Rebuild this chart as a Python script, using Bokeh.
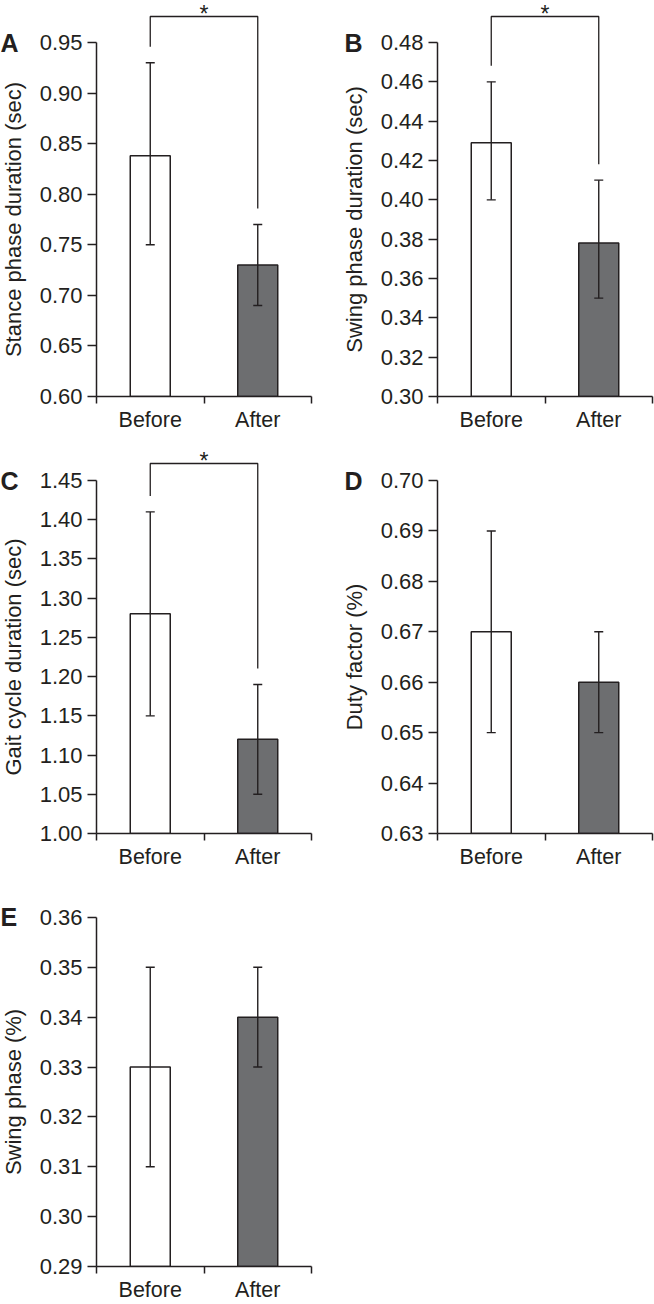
import math
from bokeh.plotting import figure
from bokeh.models import (Range1d, FixedTicker, PrintfTickFormatter, Label,
                          Whisker, TeeHead, ColumnDataSource)
from bokeh.layouts import column, row
from bokeh.embed import file_html
from bokeh.resources import INLINE

# ---------------- data ----------------
groups = ["Before", "After"]
bar_colors = ["#ffffff", "#6d6e70"]

stance_mean = [0.838, 0.730]
stance_lower = [0.750, 0.690]
stance_upper = [0.930, 0.770]
stance_ticks = [0.60, 0.65, 0.70, 0.75, 0.80, 0.85, 0.90, 0.95]

swingdur_mean = [0.429, 0.378]
swingdur_lower = [0.400, 0.350]
swingdur_upper = [0.460, 0.410]
swingdur_ticks = [0.30, 0.32, 0.34, 0.36, 0.38, 0.40, 0.42, 0.44, 0.46, 0.48]

gait_mean = [1.28, 1.12]
gait_lower = [1.15, 1.05]
gait_upper = [1.41, 1.19]
gait_ticks = [1.00, 1.05, 1.10, 1.15, 1.20, 1.25, 1.30, 1.35, 1.40, 1.45]

duty_mean = [0.670, 0.660]
duty_lower = [0.650, 0.650]
duty_upper = [0.690, 0.670]
duty_ticks = [0.63, 0.64, 0.65, 0.66, 0.67, 0.68, 0.69, 0.70]

swingpct_mean = [0.330, 0.340]
swingpct_lower = [0.310, 0.330]
swingpct_upper = [0.350, 0.350]
swingpct_ticks = [0.29, 0.30, 0.31, 0.32, 0.33, 0.34, 0.35, 0.36]

INK = "#231f20"
FONT = "Liberation Sans"
LABEL_W = 30   # width of the strip holding panel letter + rotated y title


def panel(letter, ylabel, mean, lower, upper, ticks, sig,
          frame_w, frame_h, tick_px, right, bottom, bracket_px, letter_x):
    lo, hi = ticks[0], ticks[-1]
    per_px = (hi - lo) / tick_px
    y_end = lo + frame_h * per_px
    left = 66

    # ---- strip with panel letter and rotated axis title ----
    s = figure(width=LABEL_W, height=frame_h + bottom,
               x_range=Range1d(0, LABEL_W), y_range=Range1d(lo, y_end),
               output_backend="svg", toolbar_location=None,
               x_axis_location=None, y_axis_location=None,
               min_border_left=0, min_border_right=0, min_border_top=0,
               min_border_bottom=bottom)
    s.outline_line_color = None
    s.xgrid.visible = False
    s.ygrid.visible = False
    s.add_layout(Label(x=12.5, y=(lo + hi) / 2, text=ylabel, angle=math.pi / 2,
                       text_align="center", text_baseline="middle",
                       text_font=FONT, text_font_size="22px", text_color=INK))
    s.add_layout(Label(x=letter_x, y=hi, text=letter, text_align="left",
                       text_baseline="middle", text_font=FONT,
                       text_font_style="bold", text_font_size="25px",
                       text_color=INK))

    # ---- bar chart ----
    p = figure(width=left + frame_w + right, height=frame_h + bottom,
               x_range=Range1d(0, 2), y_range=Range1d(lo, y_end),
               output_backend="svg", toolbar_location=None,
               min_border_left=left, min_border_right=right,
               min_border_top=0, min_border_bottom=bottom)
    p.outline_line_color = None
    p.xgrid.visible = False
    p.ygrid.visible = False

    xs = [i + 0.5 for i in range(len(groups))]
    src = ColumnDataSource(dict(x=xs, top=mean, lower=lower, upper=upper,
                                color=bar_colors))
    p.vbar(x="x", top="top", bottom=lo, width=0.372, fill_color="color",
           line_color=INK, line_width=1.5, source=src)
    p.add_layout(Whisker(base="x", upper="upper", lower="lower", source=src,
                         line_color=INK, line_width=1.4, level="overlay",
                         upper_head=TeeHead(size=9, line_color=INK, line_width=1.4),
                         lower_head=TeeHead(size=9, line_color=INK, line_width=1.4)))

    if sig:
        top_y = hi + bracket_px * per_px
        leg_l = upper[0] + 16 * per_px
        leg_r = upper[1] + 16 * per_px
        p.line(x=[xs[0], xs[0], xs[1], xs[1]], y=[leg_l, top_y, top_y, leg_r],
               line_color=INK, line_width=1.3)
        p.add_layout(Label(x=(xs[0] + xs[1]) / 2, y=top_y + 3 * per_px, text="*",
                           text_align="center", text_baseline="middle",
                           text_font=FONT, text_font_size="23px", text_color=INK))

    xa = p.xaxis[0]
    xa.ticker = FixedTicker(ticks=xs, minor_ticks=[0, 1, 2])
    xa.major_label_overrides = {xs[i]: groups[i] for i in range(len(groups))}
    xa.major_tick_out = 0
    xa.major_tick_in = 0
    xa.minor_tick_out = 7
    xa.minor_tick_in = 0
    xa.major_label_standoff = 4
    xa.axis_line_color = INK
    xa.axis_line_width = 1.5
    xa.minor_tick_line_color = INK
    xa.minor_tick_line_width = 1.5
    xa.major_label_text_font = FONT
    xa.major_label_text_font_size = "21.5px"
    xa.major_label_text_color = INK

    ya = p.yaxis[0]
    ya.ticker = FixedTicker(ticks=ticks, minor_ticks=[])
    ya.bounds = (lo, hi)
    ya.formatter = PrintfTickFormatter(format="%.2f")
    ya.major_tick_out = 9
    ya.major_tick_in = 0
    ya.minor_tick_line_color = None
    ya.major_label_standoff = 5
    ya.axis_line_color = INK
    ya.axis_line_width = 1.5
    ya.major_tick_line_color = INK
    ya.major_tick_line_width = 1.5
    ya.major_label_text_font = FONT
    ya.major_label_text_font_size = "22px"
    ya.major_label_text_color = INK
    return [s, p]


rowA_B = panel("A", "Stance phase duration (sec)", stance_mean, stance_lower, stance_upper,
               stance_ticks, True, 215, 396, 354, 30, 44, 26, 0) + \
         panel("B", "Swing phase duration (sec)", swingdur_mean, swingdur_lower, swingdur_upper,
               swingdur_ticks, True, 215, 396, 354, 2, 44, 26, 3)
rowC_D = panel("C", "Gait cycle duration (sec)", gait_mean, gait_lower, gait_upper,
               gait_ticks, True, 215, 393, 353, 30, 44, 17, 0) + \
         panel("D", "Duty factor (%)", duty_mean, duty_lower, duty_upper,
               duty_ticks, False, 215, 393, 353, 2, 44, 17, 3)
rowE = panel("E", "Swing phase (%)", swingpct_mean, swingpct_lower, swingpct_upper,
             swingpct_ticks, False, 215, 390, 350, 30, 37, 17, 0)

layout = column(row(*rowA_B), row(*rowC_D), row(*rowE))

open("out.html", "w").write(file_html(layout, INLINE))
